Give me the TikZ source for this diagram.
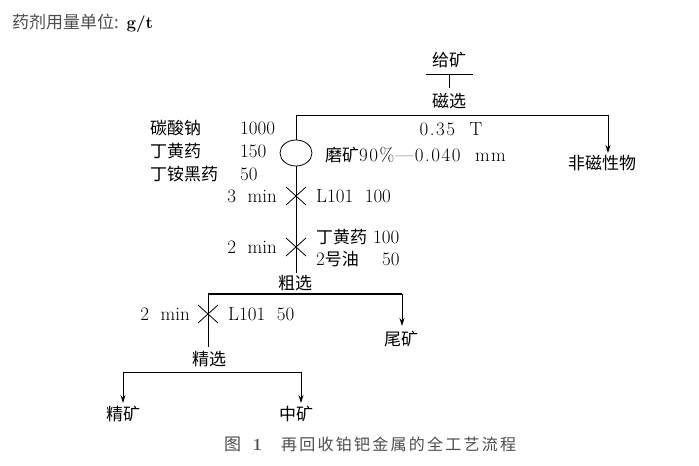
\documentclass[tikz,border=0pt]{standalone}
\usepackage{fontspec}
\newfontfamily\cjk{Noto Sans CJK SC}
\newfontfamily\cjkcap[LetterSpace=14]{Noto Sans CJK SC}
\newfontfamily\widelat[LetterSpace=8]{Latin Modern Roman}
\newcommand\zh[1]{{\cjk\fontsize{17}{20}\selectfont #1}}
\usetikzlibrary{arrows.meta,shapes.geometric}
\tikzset{
  txt/.style={inner sep=0pt, font=\fontsize{19}{22}\selectfont},
  ln/.style={line width=0.8pt},
  arr/.style={line width=0.8pt, -{Stealth[length=8pt,width=5pt]}},
  grey/.style={text=black!70}
}
\begin{document}
\begin{tikzpicture}[x=1pt,y=-1pt]
\useasboundingbox (0,0) rectangle (699,466);
% title
\node[txt, anchor=west] (title) at (12,23) {{\color{black!70}\zh{药剂用量单位:}} {\fontsize{17}{20}\selectfont\textbf{g/t}}};
% feed
\node[txt] (feed) at (449,60) {\zh{给矿}};
\coordinate (fl) at (426,74);
\coordinate (fr) at (473,74);
\coordinate (fm) at (449,74);
\coordinate (ft) at (449,88);
\draw[ln] (fl) -- (fr);
\draw[ln] (fm) -- (ft);
\node[txt] (mag) at (449,101) {\zh{磁选}};
\coordinate (ml) at (296,115);
\coordinate (mr) at (608,115);
\draw[ln] (ml) -- (mr);
\node[txt] (tesla) at (451,129) {\widelat 0.35\ \ T};
% grinding circle
\node[draw, ln, ellipse, minimum width=32pt, minimum height=26pt, inner sep=0pt] (mill) at (296,153) {};
\draw[ln] (ml) -- (mill.north);
\node[txt, anchor=west] (grind) at (325,155) {\zh{磨矿}{\widelat 90\%—0.040\ \ mm}};
% non magnetic
\node[txt] (nonmag) at (602,163) {\zh{非磁性物}};
\coordinate (nmt) at (608,153);
\draw[arr] (mr) -- (nmt);
% reagent labels
\node[txt, anchor=west] (r1) at (150,128) {\zh{碳酸钠}};
\node[txt, anchor=west] (r1v) at (240,128) {1000};
\node[txt, anchor=west] (r2) at (150,151) {\zh{丁黄药}};
\node[txt, anchor=west] (r2v) at (240,151) {150};
\node[txt, anchor=west] (r3) at (150,174) {\zh{丁铵黑药}};
\node[txt, anchor=west] (r3v) at (240,174) {50};
% main vertical
\coordinate (x1) at (296,196);
\coordinate (x2) at (296,247);
\coordinate (rb) at (296,273);
\draw[ln] (mill.south) -- (rb);
\draw[ln] ([shift={(-10,-9)}]x1) -- ([shift={(10,9)}]x1);
\draw[ln] ([shift={(-10,9)}]x1) -- ([shift={(10,-9)}]x1);
\draw[ln] ([shift={(-10,-9)}]x2) -- ([shift={(10,9)}]x2);
\draw[ln] ([shift={(-10,9)}]x2) -- ([shift={(10,-9)}]x2);
\node[txt, anchor=east] (t1) at (277,196) {3\ \ min};
\node[txt, anchor=west] (a1) at (316,196) {L101\ \ 100};
\node[txt, anchor=east] (t2) at (277,247) {2\ \ min};
\node[txt, anchor=west] (a2) at (316,237) {\zh{丁黄药}};
\node[txt, anchor=west] (a2v) at (373,237) {100};
\node[txt, anchor=west] (a3) at (316,259) {2\zh{号油}};
\node[txt, anchor=west] (a3v) at (382,259) {50};
% rougher
\node[txt] (rough) at (295,283) {\zh{粗选}};
\coordinate (rl) at (208,294);
\coordinate (rr) at (402,294);
\draw[line width=1.1pt] (rl) -- (rr);
\coordinate (tt) at (402,326);
\draw[arr] (rr) -- (tt);
\node[txt] (tail) at (401,339) {\zh{尾矿}};
% cleaner branch
\coordinate (x3) at (208,314);
\coordinate (cb) at (208,347);
\draw[ln] (rl) -- (cb);
\draw[ln] ([shift={(-10,-9)}]x3) -- ([shift={(10,9)}]x3);
\draw[ln] ([shift={(-10,9)}]x3) -- ([shift={(10,-9)}]x3);
\node[txt, anchor=east] (t3) at (190,314) {2\ \ min};
\node[txt, anchor=west] (a4) at (228,314) {L101\ \ 50};
\node[txt] (clean) at (209,359) {\zh{精选}};
\coordinate (cl) at (123,372);
\coordinate (cr) at (301,372);
\draw[ln] (cl) -- (cr);
\coordinate (cla) at (123,403);
\coordinate (cra) at (301,403);
\draw[arr] (cl) -- (cla);
\draw[arr] (cr) -- (cra);
\node[txt] (conc) at (123,414) {\zh{精矿}};
\node[txt] (mid) at (296,414) {\zh{中矿}};
% caption
\node[txt, anchor=west, text=black!70] (cap) at (224,444) {\zh{图}\ \ {\fontsize{17}{20}\selectfont\textbf{1}}\quad{\cjkcap\fontsize{16}{18}\selectfont 再回收铂钯金属的全工艺流程}};
\end{tikzpicture}
\end{document}
